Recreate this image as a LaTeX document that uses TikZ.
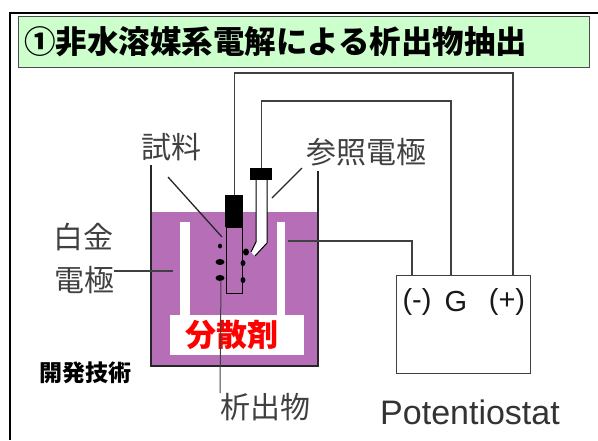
\documentclass[tikz,border=0pt]{standalone}
\usepackage{fontspec}
\setmainfont{Liberation Sans}
\newfontfamily\jp{Noto Sans CJK JP}
\usetikzlibrary{positioning}

\definecolor{liquid}{RGB}{182,110,182}
\definecolor{titlebg}{RGB}{204,255,204}

\tikzset{
  wire/.style={draw=black!75, line width=1.2pt},
  jplabel/.style={font=\jp\fontsize{30}{30}\selectfont, text=black!75, inner sep=0pt},
  pointer/.style={draw=black!85, line width=1.3pt},
  grain/.style={fill=black},
  term/.style={font=\fontsize{29}{29}\selectfont, text=black!90, inner sep=0pt},
}

\begin{document}
\begin{tikzpicture}[x=1pt, y=-1pt]
	\useasboundingbox (0,0) rectangle (598,440);
	% outer frame and title bar
	\draw[line width=2.5pt] (598,13) -- (10,13) -- (10,440);
	\node[draw=black!70, fill=titlebg, line width=1pt, anchor=north west, inner sep=0pt,
		minimum width=571pt, minimum height=51pt] (title) at (18,16) {};
	\node[anchor=west, inner sep=0pt, font=\jp\bfseries\fontsize{31.5}{31.5}\selectfont] (heading) at (24,42)
		{①非水溶媒系電解による析出物抽出};

	% beaker with electrolyte
	\fill[liquid] (151,212) rectangle (318,366);
	\fill[white] (180,222) rectangle (190,316);
	\fill[white] (277,222) rectangle (285,316);
	\draw[line width=1.2pt, black!85] (151,165) -- (151,366) -- (318,366) -- (318,171);
	\node[fill=white, anchor=north west, inner sep=0pt, minimum width=134pt, minimum height=40pt,
		font=\jp\bfseries\fontsize{31}{31}\selectfont, text=red] (disp) at (170,315) {\hspace*{-10pt}分散剤};

	% sample electrode
	\node[fill=black, anchor=north west, inner sep=0pt, minimum width=18pt, minimum height=32pt] (holder) at (225,195) {};
	\node[draw=black, line width=1pt, anchor=north, inner sep=0pt, minimum width=16pt, minimum height=66pt] (rod) at (holder.south) {};

	% reference electrode
	\node[fill=black, anchor=north west, inner sep=0pt, minimum width=22pt, minimum height=12pt] (cap) at (250,168) {};
	\fill[white] (256,180) -- (256,242) -- (251,252) -- (255,256) -- (267,243) -- (267,180) -- cycle;
	\draw[line width=1pt] (256,180) -- (256,242) -- (251,252);
	\draw[line width=1pt] (267,180) -- (267,243) -- (255,256);

	% precipitate
	\fill[grain] (220,246) ellipse (2pt and 2.5pt);
	\fill[grain] (220,262) ellipse (4.5pt and 3pt);
	\fill[grain] (220,278) ellipse (4.5pt and 3pt);
	\fill[grain] (246,252) ellipse (3pt and 3.5pt);
	\fill[grain] (243,263) ellipse (2.5pt and 3pt);
	\fill[grain] (243,280) ellipse (2.5pt and 3pt);

	% potentiostat
	\node[draw=black!75, line width=1.2pt, anchor=north west, inner sep=0pt,
		minimum width=134pt, minimum height=98pt] (pstat) at (396,275) {};
	\node[term] (neg) at (417,302) {(-)};
	\node[term] (gnd) at (456,302) {G};
	\node[term] (pos) at (507,302) {(+)};
	\node[font=\fontsize{34}{34}\selectfont, text=black!80, inner sep=0pt] (pname) at (470,412) {Potentiostat};

	% wiring
	\coordinate (pt) at (288,241);
	\draw[wire] (pt) -- (412,241) -- (412,275);
	\draw[wire] (cap.north) -- ++(0,-67) -| (451,275);
	\draw[wire] (holder.north) -- ++(0,-122) -| (513,275);

	% labels
	\node[jplabel] (lsample) at (171,147) {試料};
	\node[jplabel] (lref) at (366,152) {参照電極};
	\node[jplabel] (lpt1) at (83,237) {白金};
	\node[jplabel] (lpt2) at (84,280) {電極};
	\node[jplabel] (lppt) at (265,407) {析出物};
	\node[font=\jp\bfseries\fontsize{23}{23}\selectfont, inner sep=0pt] (dev) at (85,373) {開発技術};

	\coordinate (psample) at (222,237);
	\coordinate (pref) at (272,198);
	\coordinate (pelec) at (173,271);
	\coordinate (pgrain) at (221,280);
	\draw[pointer] (168,177) -- (psample);
	\draw[pointer] (302,168) -- (pref);
	\draw[wire] (lpt2.east |- pelec) -- (pelec);
	\draw[wire, line width=1pt] (lppt.north -| 220,0) -- (pgrain);
\end{tikzpicture}
\end{document}
